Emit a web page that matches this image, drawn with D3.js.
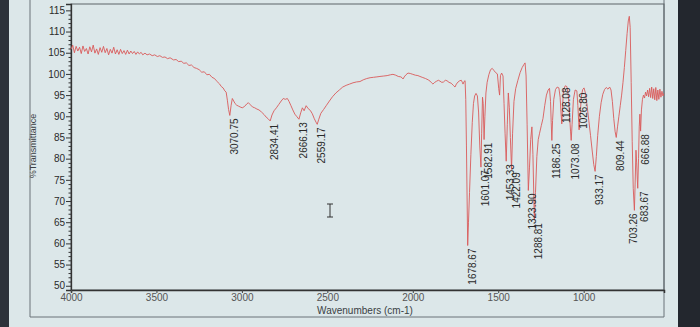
<!DOCTYPE html>
<html><head><meta charset="utf-8">
<script src="https://cdn.jsdelivr.net/npm/d3@7"></script>
<style>
html,body{margin:0;padding:0;background:#dce7e9;overflow:hidden;}
svg{display:block;font-family:"Liberation Sans",Arial,sans-serif;}
</style>
</head><body>
<svg id="chart" width="700" height="327"></svg>
<script>
// ---- data ----
const yTicks = [50,55,60,65,70,75,80,85,90,95,100,105,110,115];
const xTicks = [4000,3500,3000,2500,2000,1500,1000];
const xTitle = "Wavenumbers (cm-1)";
const yTitle = "%Transmittance";

const peakLabels = ["3070.75","2834.41","2666.13","2559.17","1678.67","1601.07","1582.91","1453.33","1422.09","1323.90","1288.81","1186.25","1128.08","1073.08","1026.80","933.17","809.44","703.26","683.67","666.88"];
const peakT =      [90.2, 88.9, 89.3, 88.1, 59.5, 78.0, 84.5, 79.4, 77.5, 72.5, 65.5, 84.3, 88.2, 84.3, 86.8, 77.0, 85.0, 67.8, 73.0, 86.5];
const labelsAbove = ["1128.08","1026.80"];

// [wavenumber, %T]
const spectrum = [
[4000,105.8],[3990,106.8],[3980,105.0],[3970,106.5],[3960,105.4],[3950,106.3],[3940,104.8],[3930,106.6],
[3920,105.3],[3910,106.0],[3900,104.7],[3890,106.4],[3880,105.2],[3870,106.8],[3860,104.9],[3850,105.9],
[3840,104.6],[3830,106.2],[3820,105.1],[3810,106.5],[3800,105.0],[3790,106.0],[3780,104.5],[3770,105.8],
[3760,104.9],[3750,106.3],[3740,104.7],[3730,105.7],[3720,104.6],[3710,105.8],[3700,104.8],[3690,105.5],
[3680,104.6],[3670,105.6],[3660,104.7],[3650,105.4],[3640,104.8],[3630,105.3],[3620,104.6],[3610,105.2],
[3600,104.7],[3590,105.1],[3580,104.5],[3567,104.9],[3555,104.5],[3540,104.7],[3525,104.3],[3510,104.5],
[3495,104.1],[3480,104.3],[3465,103.9],[3450,104.0],[3435,103.6],[3420,103.8],[3400,103.3],[3385,103.4],
[3370,102.9],[3355,103.0],[3340,102.5],[3325,102.6],[3310,102.0],[3295,102.1],[3280,101.5],[3265,101.3],
[3250,101.0],[3235,100.4],[3220,100.5],[3205,99.8],[3190,99.9],[3175,99.2],[3160,98.9],[3150,98.4],
[3140,98.0],[3130,97.6],[3120,97.0],[3110,96.7],[3100,96.0],[3092,95.7],[3085,93.8],[3078,91.6],
[3070.75,90.2],[3063,92.6],[3056,94.2],[3048,93.6],[3040,93.0],[3030,92.6],[3020,92.4],[3010,92.2],
[2998,92.0],[2985,92.3],[2972,92.9],[2962,93.2],[2950,92.7],[2938,92.2],[2925,92.0],[2912,91.7],
[2900,91.5],[2885,91.0],[2870,90.4],[2858,89.8],[2846,89.4],[2834.41,88.9],[2824,90.3],[2812,91.3],
[2798,92.0],[2784,92.8],[2770,93.6],[2758,94.2],[2746,94.0],[2734,94.2],[2724,93.5],[2714,92.6],
[2702,91.5],[2690,90.5],[2678,89.9],[2666.13,89.3],[2656,90.8],[2646,92.0],[2636,91.3],[2624,92.5],
[2612,91.8],[2600,91.4],[2588,90.6],[2576,89.4],[2566,88.6],[2559.17,88.1],[2550,89.3],[2538,90.7],
[2522,91.6],[2505,92.6],[2488,93.6],[2470,94.6],[2450,95.5],[2430,96.2],[2410,96.9],[2390,97.3],
[2370,97.6],[2350,97.9],[2330,98.1],[2309,98.2],[2290,98.6],[2270,98.9],[2250,99.1],[2230,99.2],
[2210,99.3],[2192,99.4],[2170,99.5],[2150,99.6],[2130,99.8],[2116,99.9],[2100,99.7],[2085,99.4],
[2070,99.3],[2063,99.1],[2057,98.8],[2050,99.3],[2040,99.8],[2028,100.2],[2015,100.1],[2000,99.9],
[1985,99.7],[1970,99.6],[1958,99.4],[1945,99.2],[1925,98.9],[1910,98.6],[1899,98.3],[1890,97.9],
[1882,97.6],[1872,98.0],[1860,98.3],[1850,98.5],[1841,98.3],[1830,98.0],[1820,98.1],[1810,98.5],
[1800,98.4],[1788,98.0],[1775,97.8],[1763,97.3],[1753,96.9],[1745,97.6],[1735,98.1],[1725,98.4],
[1716,98.5],[1710,98.0],[1706,97.6],[1700,98.2],[1694,98.4],[1690,94.0],[1686,83.0],[1682,70.0],
[1678.67,59.5],[1674,65.0],[1668,72.0],[1660,81.0],[1652,88.5],[1645,93.0],[1638,94.8],[1630,95.4],
[1622,94.8],[1615,91.0],[1608,83.0],[1601.07,78.0],[1597,86.0],[1592,94.5],[1588,93.0],[1582.91,84.5],
[1578,90.0],[1572,95.5],[1565,98.0],[1555,99.8],[1545,101.0],[1535,101.3],[1525,100.8],[1515,100.3],
[1505,100.0],[1497,96.5],[1492,95.0],[1487,99.6],[1480,100.2],[1472,99.5],[1466,93.0],[1460,86.0],
[1453.33,79.4],[1447,88.0],[1441,95.5],[1435,92.0],[1429,85.0],[1422.09,77.5],[1416,86.0],[1408,93.5],
[1398,96.5],[1385,98.5],[1372,100.3],[1360,101.5],[1350,102.2],[1343,102.6],[1337,99.5],[1331,88.0],
[1323.90,72.5],[1317,78.0],[1310,84.5],[1303,87.5],[1297,81.0],[1288.81,65.5],[1282,72.0],[1274,80.5],
[1266,84.5],[1258,86.0],[1248,87.8],[1238,89.5],[1228,92.5],[1218,95.0],[1208,96.2],[1200,96.6],
[1194,93.5],[1190,88.5],[1186.25,84.3],[1182,89.0],[1175,94.0],[1165,96.3],[1155,96.9],[1145,96.7],
[1138,94.5],[1132,90.5],[1128.08,88.2],[1124,92.0],[1118,96.2],[1108,97.2],[1098,97.0],[1090,95.0],
[1083,90.5],[1077,86.5],[1073.08,84.3],[1068,88.0],[1060,94.0],[1050,96.2],[1040,96.0],[1034,92.5],
[1029,88.5],[1026.80,86.8],[1021,90.0],[1014,94.5],[1006,96.3],[998,96.7],[990,95.5],[980,92.5],
[970,89.0],[960,85.5],[950,81.8],[941,78.6],[933.17,77.0],[926,80.5],[918,85.5],[908,90.0],
[898,93.2],[888,95.2],[878,96.3],[868,96.8],[858,96.4],[848,96.9],[840,96.2],[832,93.5],
[824,89.5],[816,86.4],[809.44,85.0],[802,87.5],[794,90.0],[786,92.5],[778,95.0],[770,98.0],
[762,101.5],[754,105.5],[746,109.5],[739,112.5],[733,113.6],[728,111.0],[722,98.0],[716,84.0],
[710,73.0],[703.26,67.8],[699,74.0],[694,82.0],[690,79.0],[686,75.0],[683.67,73.0],[679,80.0],
[675,87.5],[671,90.5],[666.88,86.5],[662,91.5],[656,94.0],[650,95.0],[644,94.3],[638,95.7],
[632,94.8],[626,96.2],[620,94.6],[614,96.6],[608,94.4],[602,96.9],[596,94.2],[590,96.5],
[584,93.9],[578,96.8],[572,93.7],[566,96.2],[560,94.0],[554,96.4],[548,94.5],[542,95.9],
[536,94.8],[531,95.4]
];

// ---- layout ----
const svg = d3.select("#chart");
const L = 71, R = 664, T = 4, B = 290;
const x = d3.scaleLinear().domain([4000, 530]).range([L, R]);
const y = d3.scaleLinear().domain([49, 116.5]).range([B, T]);
const labelShift = {"703.26": -5, "683.67": 2};

// backdrop (photo of a screen)
svg.append("rect").attr("x",0).attr("y",0).attr("width",700).attr("height",327).attr("fill","#dce7e9");
svg.append("rect").attr("x",0).attr("y",0).attr("width",9).attr("height",327).attr("fill","#2d323a");
svg.append("rect").attr("x",678).attr("y",0).attr("width",22).attr("height",327).attr("fill","#23272e");

// outer frame
svg.append("path")
  .attr("d", `M30,0 L30,317 L${R},317 L${R},0`)
  .attr("fill","none").attr("stroke","#6b7378").attr("stroke-width",1);

// plot frame
svg.append("rect").attr("x",L).attr("y",T).attr("width",R-L).attr("height",B-T)
  .attr("fill","none").attr("stroke","#5c6468").attr("stroke-width",1);

// y axis
const yAxis = d3.axisLeft(y).tickValues(yTicks).tickSize(5).tickFormat(d3.format("d"));
const gy = svg.append("g").attr("transform",`translate(${L},0)`).call(yAxis);
gy.select(".domain").attr("stroke","#333").attr("stroke-width",1.3);
gy.selectAll(".tick line").attr("stroke","#333");
gy.selectAll(".tick text").attr("fill","#2a2a2a").style("font-size","10px").attr("x",-6);
const yMinor = d3.range(50, 116, 1).filter(v => v % 5 !== 0);
svg.append("g").attr("transform",`translate(${L},0)`)
  .call(d3.axisLeft(y).tickValues(yMinor).tickSize(2.5).tickFormat(""))
  .call(g => g.select(".domain").remove())
  .selectAll("line").attr("stroke","#333");

// x axis
const xAxis = d3.axisBottom(x).tickValues(xTicks).tickSize(3).tickFormat(d3.format("d"));
const gx = svg.append("g").attr("transform",`translate(0,${B})`).call(xAxis);
gx.select(".domain").attr("stroke","#333").attr("stroke-width",1.5);
gx.selectAll(".tick line").attr("stroke","#444");
gx.selectAll(".tick text").attr("fill","#555").style("font-size","10px").attr("y",4);

// titles
svg.append("text").attr("x",365).attr("y",314).attr("text-anchor","middle")
  .attr("fill","#3a3f44").style("font-size","10px").text(xTitle);
svg.append("text").attr("transform","translate(36,146) rotate(-90)").attr("text-anchor","middle")
  .attr("fill","#3a3f44").style("font-size","9px").text(yTitle);

// spectrum
const line = d3.line().x(d => x(d[0])).y(d => y(d[1]));
svg.append("path").datum(spectrum).attr("d", line)
  .attr("fill","none").attr("stroke","#d95a5a").attr("stroke-width",0.9).attr("stroke-linejoin","round");

// peak labels
peakLabels.forEach((lab, i) => {
  const px = x(+lab) + (labelShift[lab] || 0), py = y(peakT[i]);
  const above = labelsAbove.includes(lab);
  svg.append("text")
    .attr("transform", `translate(${px+8},${above ? py-1 : py+3}) rotate(-90)`)
    .attr("text-anchor", above ? "start" : "end")
    .attr("fill","#2a2a2a").style("font-size","10px").text(lab);
});

// mouse I-beam cursor seen in the photo
svg.append("path").attr("d","M327,204 L333,204 M330,204 L330,217 M327,217 L333,217")
  .attr("stroke","#333").attr("stroke-width",1).attr("fill","none");
</script>
</body></html>
